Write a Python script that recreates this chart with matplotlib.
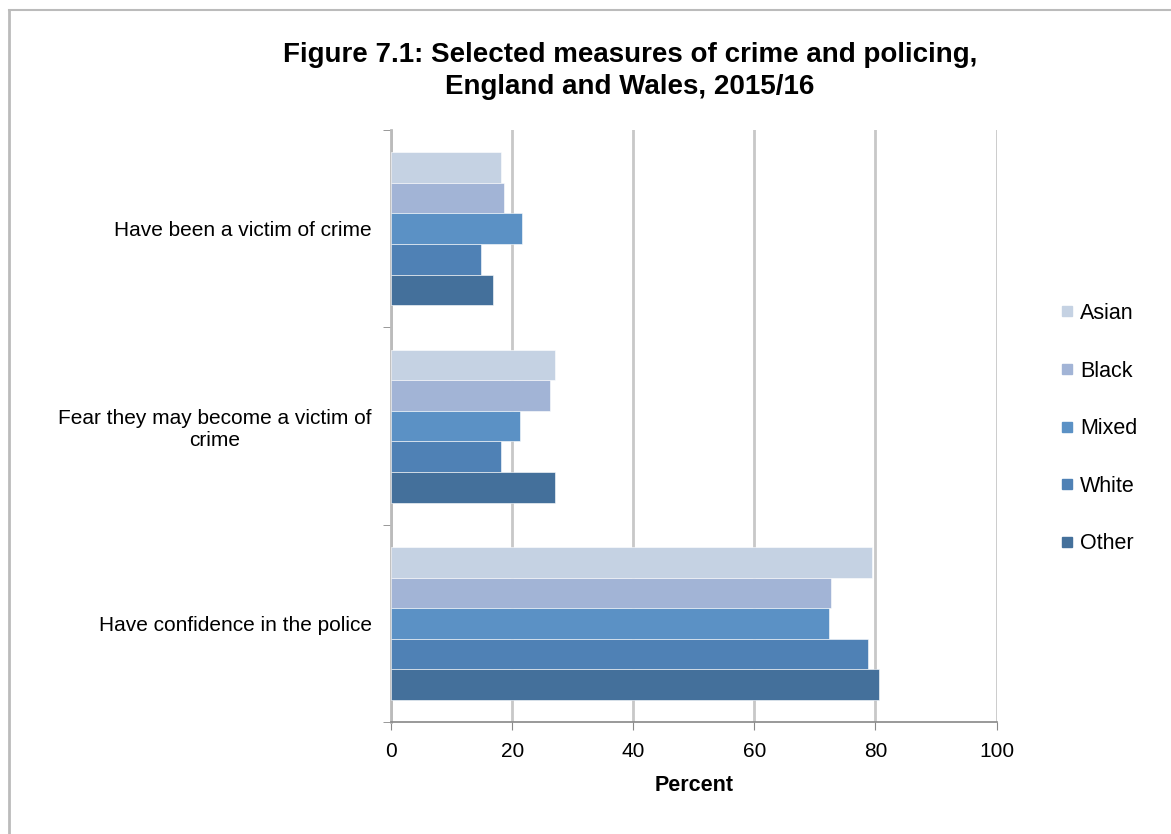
import matplotlib.pyplot as plt
import numpy as np
from matplotlib.lines import Line2D

plt.rcParams['font.family'] = ['Liberation Sans', 'DejaVu Sans']

measures = ["Have been a victim of crime",
            "Fear they may become a victim of\ncrime",
            "Have confidence in the police"]
groups = ["Asian", "Black", "Mixed", "White", "Other"]
asian = [18.1, 27.1, 79.4]
black = [18.7, 26.2, 72.6]
mixed = [21.6, 21.3, 72.3]
white = [14.9, 18.1, 78.8]
other = [16.9, 27.1, 80.6]
colors = ["#C5D2E3", "#A2B4D6", "#5B91C5", "#4F81B5", "#44709B"]

series = [asian, black, mixed, white, other]

fig = plt.figure(figsize=(11.71, 8.34), dpi=100)
ax = fig.add_axes([0.334, 0.134, 0.517, 0.710])

n = len(groups)
bar_h = 0.155
centers = np.arange(len(measures))  # 0 at top after invert
for i, (vals, col) in enumerate(zip(series, colors)):
    offs = (i - (n - 1) / 2) * bar_h
    ax.barh(centers + offs, vals, height=bar_h, color=col, label=groups[i],
            edgecolor="white", linewidth=0.4, zorder=3)

ax.set_xlim(0, 100)
ax.set_ylim(len(measures) - 0.5, -0.5)
ax.set_xticks(np.arange(0, 101, 20))
ax.set_yticks(centers)
ax.set_yticklabels(measures, fontsize=15, ha="right", multialignment="center")
ax.tick_params(axis="y", length=0, pad=14)
ax.set_yticks(np.arange(-0.5, len(measures)), minor=True)
ax.tick_params(axis="y", which="minor", length=6, color="#888888")
ax.tick_params(axis="x", labelsize=15, length=6, color="#888888", pad=8)

ax.grid(axis="x", color="#c8c8c8", linewidth=2, zorder=0)
for s in ["top", "right"]:
    ax.spines[s].set_visible(False)
ax.spines["left"].set_color("#bbbbbb")
ax.spines["left"].set_linewidth(2)
ax.spines["bottom"].set_color("#888888")
ax.spines["bottom"].set_linewidth(1.2)

ax.set_xlabel("Percent", fontsize=15.5, fontweight="bold", labelpad=10)

fig.text(0.538, 0.915, "Figure 7.1: Selected measures of crime and policing,\nEngland and Wales, 2015/16",
         ha="center", va="center", fontsize=20, fontweight="bold", linespacing=1.3)

handles = [Line2D([0], [0], marker="s", linestyle="", markersize=7,
                  markerfacecolor=c, markeredgecolor=c) for c in colors]
fig.legend(handles, groups, loc="center left", bbox_to_anchor=(0.889, 0.486),
           frameon=False, fontsize=15.5, handlelength=0.6, handletextpad=0.3,
           labelspacing=1.7)

# outer frame (left and top edges)
fig.add_artist(Line2D([0.0075, 0.0075], [0, 0.988], color="#bbbbbb", lw=2,
                      transform=fig.transFigure))
fig.add_artist(Line2D([0.0075, 1], [0.988, 0.988], color="#bbbbbb", lw=1.5,
                      transform=fig.transFigure))

fig.savefig("out.png", dpi=100)
